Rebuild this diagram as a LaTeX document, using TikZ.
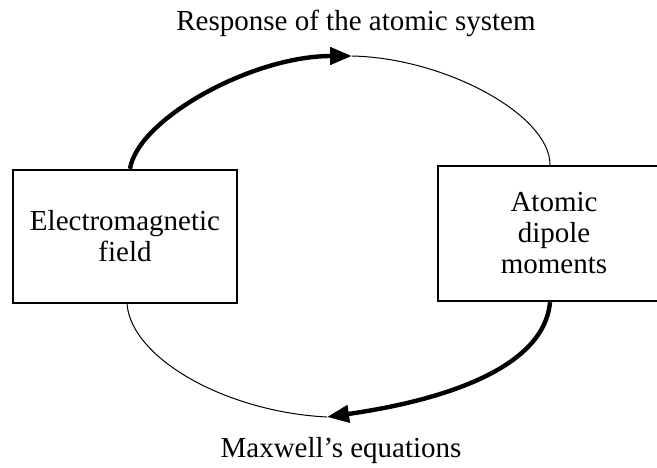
\documentclass[tikz,border=0pt]{standalone}
\usepackage{fontspec}
\setmainfont{Liberation Serif}
\usetikzlibrary{arrows.meta}
\tikzset{
  fieldbox/.style = {draw, line width=1.2pt, align=center, inner sep=0pt,
                     font=\fontsize{14.5}{15.5}\selectfont},
  caption/.style  = {font=\fontsize{14.5}{16}\selectfont, inner sep=0pt, anchor=base},
  strong/.style   = {line width=2.2pt},
  weak/.style     = {line width=0.5pt},
  head/.style     = {-{Triangle[length=11pt,width=8.5pt]}},
}
\begin{document}
\begin{tikzpicture}[x=0.5pt,y=0.5pt]
  \useasboundingbox (0,0) rectangle (657,467);
  \clip (0,0) rectangle (657,467);

  % boxes
  \node[fieldbox, minimum width=112pt, minimum height=66.5pt] (emf) at (125,230.5)
    {Electromagnetic\\field};
  \node[fieldbox, minimum width=116pt, minimum height=67.5pt] (dip) at (554,233.5)
    {Atomic\\dipole\\moments};

  % captions
  \node[caption] (resp) at (356,437) {Response of the atomic system};
  \node[caption] (maxw) at (341,10)  {Maxwell's equations};

  \coordinate (top) at (352,411);
  \coordinate (bot) at (327,50);

  % upper loop
  \draw[strong, head] ([xshift=2.5pt]emf.north) .. controls +(8,50) and +(-100,0) .. (top);
  \draw[weak] (top) .. controls +(93,-2) and +(0,50) .. ([xshift=-2pt]dip.north);

  % lower loop
  \draw[strong, head] ([xshift=-2pt]dip.south) .. controls +(-7,-78) and +(77,11) .. (bot);
  \draw[weak] ([xshift=1pt]emf.south) .. controls +(5,-55) and +(-100,5) .. (bot);
\end{tikzpicture}
\end{document}
